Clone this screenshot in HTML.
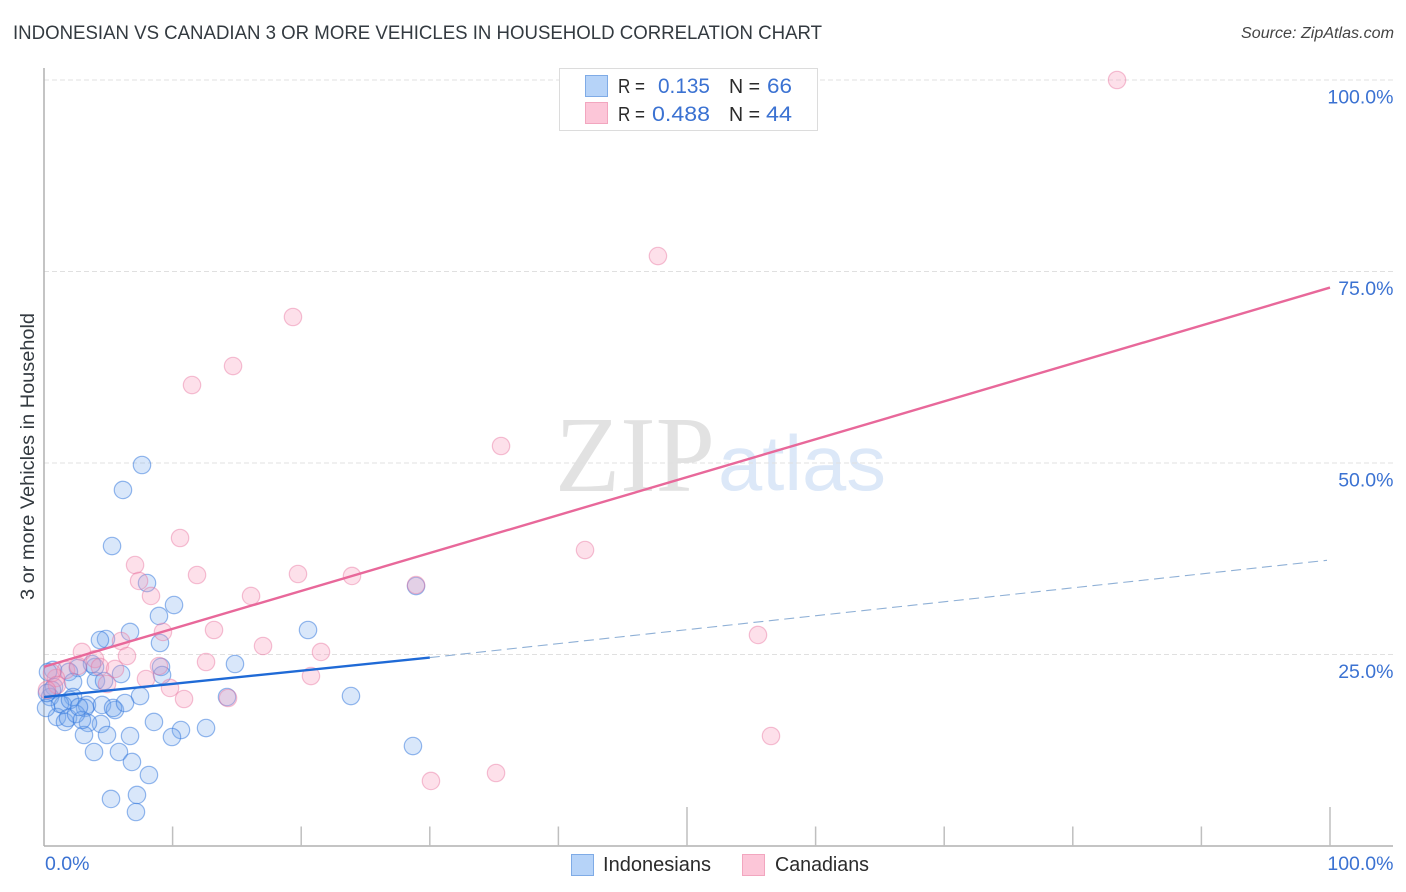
<!DOCTYPE html>
<html lang="en">
<head>
<meta charset="utf-8">
<title>Indonesian vs Canadian 3 or More Vehicles in Household Correlation Chart</title>
<style>
html,body{margin:0;padding:0;background:#fff;}
svg{display:block;font-family:"Liberation Sans",Arial,sans-serif;}
</style>
</head>
<body>
<svg id="chart" xmlns="http://www.w3.org/2000/svg" width="1406" height="892" viewBox="0 0 1406 892">
  <rect x="0" y="0" width="1406" height="892" fill="#ffffff"/>
  <text x="13" y="39" font-size="19" fill="#333a40" textLength="809" lengthAdjust="spacingAndGlyphs">INDONESIAN VS CANADIAN 3 OR MORE VEHICLES IN HOUSEHOLD CORRELATION CHART</text>
  <text x="1394" y="38" font-size="15.5" font-style="italic" fill="#444" text-anchor="end" textLength="153" lengthAdjust="spacingAndGlyphs">Source: ZipAtlas.com</text>
  <g>
    <text x="555" y="491" font-family="'Liberation Serif',serif" font-size="108" fill="#e2e2e2" textLength="160" lengthAdjust="spacingAndGlyphs">ZIP</text>
    <text x="718" y="490" font-size="78" fill="#dce8f8" textLength="168" lengthAdjust="spacingAndGlyphs">atlas</text>
  </g>
  <g id="grid"></g>
  <g id="axes"></g>
  <g id="points"></g>
  <g id="trends"></g>
  <text transform="translate(34,456.5) rotate(-90)" font-size="19" fill="#333a40" text-anchor="middle" textLength="287" lengthAdjust="spacingAndGlyphs">3 or more Vehicles in Household</text>

  <g>
    <rect x="559.5" y="68.5" width="258" height="62" fill="#ffffff" stroke="#dcdcdc" stroke-width="1"/>
    <rect x="585.5" y="75.5" width="22" height="21" fill="#b6d3f8" stroke="#7fabe6"/>
    <rect x="585.5" y="102.5" width="22" height="21" fill="#fcc6d8" stroke="#f2a6bf"/>
    <g font-size="20" fill="#2b2b2b">
      <text x="618" y="93" textLength="27" lengthAdjust="spacingAndGlyphs">R =</text>
      <text x="658" y="93" fill="#3b72d2" font-size="21" textLength="52" lengthAdjust="spacingAndGlyphs">0.135</text>
      <text x="729" y="93" textLength="31" lengthAdjust="spacingAndGlyphs">N =</text>
      <text x="767" y="93" fill="#3b72d2" font-size="21" textLength="25" lengthAdjust="spacingAndGlyphs">66</text>
      <text x="618" y="121" textLength="27" lengthAdjust="spacingAndGlyphs">R =</text>
      <text x="652" y="121" fill="#3b72d2" font-size="21" textLength="58" lengthAdjust="spacingAndGlyphs">0.488</text>
      <text x="729" y="121" textLength="31" lengthAdjust="spacingAndGlyphs">N =</text>
      <text x="766" y="121" fill="#3b72d2" font-size="21" textLength="26" lengthAdjust="spacingAndGlyphs">44</text>
    </g>
  </g>

  <g>
    <g>
      <rect x="571.5" y="854.5" width="22" height="21" fill="#b6d3f8" stroke="#7fabe6"/>
      <text x="603" y="871" font-size="20" fill="#2b2b2b" textLength="108" lengthAdjust="spacingAndGlyphs">Indonesians</text>
    </g>
    <g>
      <rect x="742.5" y="854.5" width="22" height="21" fill="#fcc6d8" stroke="#f2a6bf"/>
      <text x="775" y="871" font-size="20" fill="#2b2b2b" textLength="94" lengthAdjust="spacingAndGlyphs">Canadians</text>
    </g>
  </g>
</svg>
<script>
const indonesianX = [7.62,6.14,5.29,8.01,10.11,8.94,6.69,4.82,4.35,9.02,9.10,9.18,14.85,20.53,28.93,23.87,28.69,7.47,5.99,4.04,4.67,3.97,3.73,2.64,1.94,0.70,0.78,0.47,0.62,2.26,2.26,1.48,1.01,1.24,3.34,3.19,4.51,5.52,5.37,6.30,8.55,10.65,9.95,12.60,14.23,4.43,3.42,4.90,3.11,6.69,3.89,5.83,6.84,8.16,5.21,7.23,7.15,1.63,1.87,2.49,2.95,0.16,2.02,2.72,0.23,0.31];
const indonesianY = [49.74,46.48,39.16,34.33,31.46,30.03,27.94,27.02,26.89,26.50,23.37,22.32,23.76,28.20,33.94,19.58,13.05,19.58,22.45,21.54,21.54,23.37,23.76,23.24,22.72,22.98,20.76,19.45,20.37,21.41,19.45,18.41,16.84,18.54,18.41,18.02,18.41,17.75,18.02,18.67,16.19,15.14,14.23,15.40,19.45,15.93,16.06,14.49,14.49,14.36,12.27,12.27,10.97,9.27,6.14,6.66,4.44,16.19,16.71,17.23,16.45,18.02,19.06,18.15,19.97,22.72];
const canadianX = [83.44,47.74,19.36,14.70,11.51,35.54,10.58,42.07,7.08,7.39,11.90,19.75,23.95,16.10,8.32,28.93,9.25,13.22,5.99,55.52,17.03,21.54,6.45,2.95,3.97,12.60,8.94,1.71,2.64,4.35,5.52,20.76,7.93,9.80,10.89,14.31,4.90,0.93,0.62,1.01,56.53,30.09,35.15,0.23];
const canadianY = [100.0,77.02,69.06,62.66,60.18,52.22,40.21,38.64,36.68,34.60,35.38,35.51,35.25,32.64,32.64,34.07,27.94,28.20,26.76,27.55,26.11,25.33,24.80,25.33,24.41,24.02,23.50,22.98,23.50,23.37,23.11,22.19,21.80,20.63,19.19,19.32,21.15,21.93,22.58,21.02,14.36,8.49,9.53,20.37];
const indonesianTrendX = [0, 30, 100];
const indonesianTrendY = [19.45, 24.6, 37.3];
const canadianTrendX = [0, 100];
const canadianTrendY = [23.4, 72.9];
const yGridValues = [25, 50, 75, 100];
const yTickLabels = ["25.0%", "50.0%", "75.0%", "100.0%"];
const xTickValues = [10, 20, 30, 40, 50, 60, 70, 80, 90, 100];
const xTallTicks = [50, 100];
const xEndValues = [0, 100];
const xEndLabels = ["0.0%", "100.0%"];

const NS = "http://www.w3.org/2000/svg";
const PLOT = { left: 44, right: 1330, bottom: 846, top: 80, edge: 1393 };
function xScale(v) { return PLOT.left + (v / 100) * (PLOT.right - PLOT.left); }
function yScale(v) { return PLOT.bottom - (v / 100) * (PLOT.bottom - PLOT.top); }
function make(parent, tag, attrs) {
  const el = document.createElementNS(NS, tag);
  for (const k in attrs) el.setAttribute(k, attrs[k]);
  parent.appendChild(el);
  return el;
}

const grid = document.getElementById("grid");
yGridValues.forEach(function (v, i) {
  const line = make(grid, "line", { x1: PLOT.left, x2: PLOT.edge, y1: yScale(v), y2: yScale(v), stroke: "#e0e0e0", "stroke-width": 1, "stroke-dasharray": "5 3" });
  
  
  const label = make(grid, "text", { x: PLOT.edge + 0.5, y: yScale(v) + 23.5, "font-size": 19.5, fill: "#3b72d2", "text-anchor": "end" });
  label.textContent = yTickLabels[i];
  
  
});

const axes = document.getElementById("axes");
const yAxis = make(axes, "line", { x1: PLOT.left, x2: PLOT.left, y1: 68, y2: PLOT.bottom, stroke: "#b0b0b0", "stroke-width": 1.5 });


const xAxis = make(axes, "line", { x1: PLOT.left, x2: PLOT.edge, y1: PLOT.bottom, y2: PLOT.bottom, stroke: "#b0b0b0", "stroke-width": 1.5 });


xTickValues.forEach(function (v) {
  const tall = xTallTicks.indexOf(v) >= 0;
  const tick = make(axes, "line", { x1: xScale(v), x2: xScale(v), y1: PLOT.bottom, y2: PLOT.bottom - (tall ? 39 : 19.5), stroke: "#bfbfbf", "stroke-width": 1.5 });
  
  
});
xEndValues.forEach(function (v, i) {
  const label = make(axes, "text", { x: v === 0 ? xScale(v) + 1 : PLOT.edge + 0.5, y: 870, "font-size": 19.5, fill: "#3b72d2", "text-anchor": v === 0 ? "start" : "end" });
  label.textContent = xEndLabels[i];
  
  
});

const points = document.getElementById("points");
indonesianX.forEach(function (v, i) {
  const c = make(points, "circle", { cx: xScale(v), cy: yScale(indonesianY[i]), r: 8.7, fill: "rgba(120,170,238,0.28)", stroke: "rgba(45,115,220,0.5)", "stroke-width": 1.2 });
  
  
});
canadianX.forEach(function (v, i) {
  const c = make(points, "circle", { cx: xScale(v), cy: yScale(canadianY[i]), r: 8.7, fill: "rgba(248,160,190,0.32)", stroke: "rgba(232,110,155,0.42)", "stroke-width": 1.2 });
  
  
});

const trends = document.getElementById("trends");
const blueDash = make(trends, "line", { x1: xScale(indonesianTrendX[1]), y1: yScale(indonesianTrendY[1]), x2: xScale(indonesianTrendX[2]) - 3, y2: yScale(indonesianTrendY[2]), stroke: "#8fb0d6", "stroke-width": 1.1, "stroke-dasharray": "10 5.5" });


const blueLine = make(trends, "line", { x1: xScale(indonesianTrendX[0]), y1: yScale(indonesianTrendY[0]), x2: xScale(indonesianTrendX[1]), y2: yScale(indonesianTrendY[1]), stroke: "#1f6ad6", "stroke-width": 2.4 });


const pinkLine = make(trends, "line", { x1: xScale(canadianTrendX[0]), y1: yScale(canadianTrendY[0]), x2: xScale(canadianTrendX[1]), y2: yScale(canadianTrendY[1]), stroke: "#e8689a", "stroke-width": 2.4 });


</script>
</body>
</html>
